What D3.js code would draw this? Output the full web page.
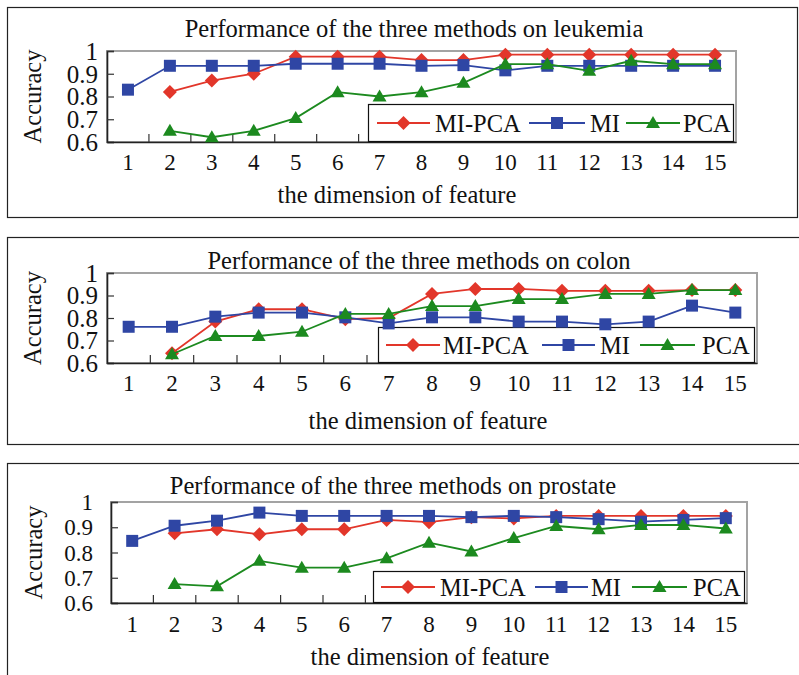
<!DOCTYPE html>
<html>
<head>
<meta charset="utf-8">
<script src="https://cdn.jsdelivr.net/npm/d3@7"></script>
<style>
  html, body { margin: 0; padding: 0; background: #fff; }
  svg { display: block; }
  text { font-family: "Liberation Serif", "Times New Roman", serif; fill: #111; }
</style>
</head>
<body>
<svg id="chart" width="799" height="675"></svg>
<script>
// Feature dimensions on the x axis
const dimensions = [1, 2, 3, 4, 5, 6, 7, 8, 9, 10, 11, 12, 13, 14, 15];
const yTickValues = [0.6, 0.7, 0.8, 0.9, 1];
const yTickLabels = ["0.6", "0.7", "0.8", "0.9", "1"];
const methodNames = ["MI-PCA", "MI", "PCA"];
const datasetNames = ["leukemia", "colon", "prostate"];

// Accuracy per dimension (null = not evaluated)
const leukemiaMIPCA = [null, 0.82, 0.87, 0.90, 0.975, 0.975, 0.975, 0.96, 0.96, 0.984, 0.984, 0.984, 0.984, 0.984, 0.984];
const leukemiaMI    = [0.83, 0.935, 0.935, 0.935, 0.944, 0.944, 0.944, 0.935, 0.938, 0.915, 0.935, 0.935, 0.935, 0.935, 0.935];
const leukemiaPCA   = [null, 0.649, 0.621, 0.649, 0.705, 0.819, 0.80, 0.819, 0.86, 0.942, 0.942, 0.913, 0.957, 0.942, 0.942];

const colonMIPCA = [null, 0.643, 0.784, 0.839, 0.839, 0.795, 0.80, 0.907, 0.929, 0.929, 0.921, 0.921, 0.921, 0.924, 0.924];
const colonMI    = [0.761, 0.761, 0.806, 0.824, 0.824, 0.803, 0.776, 0.803, 0.803, 0.784, 0.784, 0.772, 0.784, 0.855, 0.824];
const colonPCA   = [null, 0.639, 0.72, 0.72, 0.739, 0.818, 0.818, 0.853, 0.853, 0.884, 0.884, 0.907, 0.907, 0.924, 0.924];

const prostateMIPCA = [null, 0.876, 0.892, 0.872, 0.892, 0.892, 0.929, 0.92, 0.94, 0.935, 0.945, 0.945, 0.945, 0.945, 0.945];
const prostateMI    = [0.846, 0.906, 0.926, 0.958, 0.945, 0.945, 0.945, 0.945, 0.94, 0.945, 0.94, 0.932, 0.922, 0.929, 0.936];
const prostatePCA   = [null, 0.675, 0.666, 0.767, 0.74, 0.74, 0.777, 0.839, 0.804, 0.857, 0.905, 0.892, 0.909, 0.909, 0.895];

const seriesByDataset = [
  [leukemiaMIPCA, leukemiaMI, leukemiaPCA],
  [colonMIPCA, colonMI, colonPCA],
  [prostateMIPCA, prostateMI, prostatePCA]
];

// Styling
const colors = ["#e2362a", "#2f46a4", "#1c8a1f"];
const shapes = ["diamond", "square", "triangle"];
const TITLE_FONT = 24.5;
const XTICK_FONT = 23;

// Panel geometry; legend items hold [line start, line end, text x] offsets from the legend box
const panels = [
  { box: [7, 7, 790, 210], plot: { l: 107, r: 736, t: 51, b: 142 },
    titleX: 414, titleY: 37, tickY: 170, axisX: 397, axisY: 203, ylabX: 32, ylabRight: 98, yFont: 25,
    legend: { x: 368, y: 104, items: [[9, 62, 67], [161, 217, 222], [258, 312, 315]] } },
  { box: [7, 237, 800, 207], plot: { l: 107, r: 757, t: 273, b: 363 },
    titleX: 419, titleY: 269, tickY: 391, axisX: 428, axisY: 429, ylabX: 32, ylabRight: 98, yFont: 25,
    legend: { x: 378, y: 327, items: [[8, 62, 65], [164, 217, 222], [262, 317, 324]] } },
  { box: [7, 463, 800, 240], plot: { l: 111, r: 747, t: 502, b: 603 },
    titleX: 393, titleY: 494, tickY: 632, axisX: 430, axisY: 665, ylabX: 33, ylabRight: 93, yFont: 23,
    legend: { x: 373, y: 571, items: [[8, 62, 67], [162, 215, 218], [259, 314, 320]] } }
];

function markerPath(shape) {
  if (shape === "diamond") return "M0,-7L7,0L0,7L-7,0Z";
  if (shape === "square") return "M-6,-6H6V6H-6Z";
  return "M0,-7L7,5L-7,5Z";
}

const svg = d3.select("#chart");

panels.forEach((p, pi) => {
  const g = svg.append("g");
  const series = seriesByDataset[pi];

  // Outer frame
  g.append("rect")
    .attr("x", p.box[0] + 0.5).attr("y", p.box[1] + 0.5)
    .attr("width", p.box[2]).attr("height", p.box[3])
    .attr("fill", "none").attr("stroke", "#222").attr("stroke-width", 1.2);

  const x = d3.scaleBand().domain(dimensions).range([p.plot.l, p.plot.r]);
  const y = d3.scaleLinear().domain([0.6, 1]).range([p.plot.b, p.plot.t]);

  // Plot frame: light top/right, dark left/bottom
  g.append("rect")
    .attr("x", p.plot.l).attr("y", p.plot.t)
    .attr("width", p.plot.r - p.plot.l).attr("height", p.plot.b - p.plot.t)
    .attr("fill", "#fff").attr("stroke", "#a3a3a3").attr("stroke-width", 2);

  // Y axis (ticks point inward)
  const yAxis = g.append("g")
    .attr("transform", `translate(${p.plot.l},0)`)
    .call(d3.axisRight(y).tickValues(yTickValues).tickSize(7).tickFormat(""));
  yAxis.select(".domain").attr("stroke", "#222").attr("stroke-width", 1.6);
  yAxis.selectAll(".tick line").attr("stroke", "#333").attr("stroke-width", 1.2);

  g.selectAll(".ylab").data(yTickValues).join("text")
    .attr("x", p.ylabRight).attr("y", d => y(d))
    .attr("dy", "0.35em").attr("text-anchor", "end")
    .attr("font-size", p.yFont)
    .text((d, i) => yTickLabels[i]);

  // X axis: labels at band centres, tick marks at band boundaries
  const xAxis = g.append("g")
    .attr("transform", `translate(0,${p.plot.b})`)
    .call(d3.axisBottom(x).tickSize(0).tickFormat(""));
  xAxis.select(".domain").attr("stroke", "#222").attr("stroke-width", 1.6);
  g.selectAll(".xtick").data(dimensions.slice(1)).join("line")
    .attr("x1", d => x(d)).attr("x2", d => x(d))
    .attr("y1", p.plot.b).attr("y2", p.plot.b - 8)
    .attr("stroke", "#333").attr("stroke-width", 1.2);
  g.selectAll(".xlab").data(dimensions).join("text")
    .attr("x", d => x(d) + x.bandwidth() / 2).attr("y", p.tickY)
    .attr("text-anchor", "middle").attr("font-size", XTICK_FONT)
    .text(d => d);

  // Titles
  g.append("text").attr("x", p.titleX).attr("y", p.titleY)
    .attr("text-anchor", "middle").attr("font-size", TITLE_FONT)
    .text(`Performance of the three methods on ${datasetNames[pi]}`);
  g.append("text").attr("x", p.axisX).attr("y", p.axisY)
    .attr("text-anchor", "middle").attr("font-size", TITLE_FONT)
    .text("the dimension of feature");
  g.append("text")
    .attr("transform", `translate(${p.ylabX},${(p.plot.t + p.plot.b) / 2}) rotate(-90)`)
    .attr("dy", "0.35em").attr("text-anchor", "middle").attr("font-size", TITLE_FONT)
    .text("Accuracy");

  // Legend
  const lg = g.append("g");
  lg.append("rect")
    .attr("x", p.legend.x + 0.5).attr("y", p.legend.y + 0.5)
    .attr("width", p.plot.r - 3 - p.legend.x).attr("height", p.plot.b - p.legend.y - 1)
    .attr("fill", "#fff").attr("stroke", "#111").attr("stroke-width", 1.2);
  const ly = (p.legend.y + p.plot.b) / 2;
  methodNames.forEach((name, si) => {
    const [l0, l1, tx] = p.legend.items[si];
    lg.append("line")
      .attr("x1", p.legend.x + l0).attr("x2", p.legend.x + l1)
      .attr("y1", ly).attr("y2", ly)
      .attr("stroke", colors[si]).attr("stroke-width", 1.8);
    lg.append("path")
      .attr("d", markerPath(shapes[si]))
      .attr("transform", `translate(${p.legend.x + (l0 + l1) / 2},${ly})`)
      .attr("fill", colors[si]);
    lg.append("text")
      .attr("x", p.legend.x + tx).attr("y", ly).attr("dy", "0.35em")
      .attr("font-size", TITLE_FONT).text(name);
  });

  // Series lines and markers
  series.forEach((vals, si) => {
    const pts = dimensions.map((d, i) => ({ d, v: vals[i] })).filter(o => o.v !== null);
    const line = d3.line()
      .x(o => x(o.d) + x.bandwidth() / 2)
      .y(o => y(o.v));
    g.append("path").datum(pts)
      .attr("d", line).attr("fill", "none")
      .attr("stroke", colors[si]).attr("stroke-width", 1.8);
    g.selectAll(null).data(pts).join("path")
      .attr("d", markerPath(shapes[si]))
      .attr("transform", o => `translate(${x(o.d) + x.bandwidth() / 2},${y(o.v)})`)
      .attr("fill", colors[si]);
  });
});
</script>
</body>
</html>
